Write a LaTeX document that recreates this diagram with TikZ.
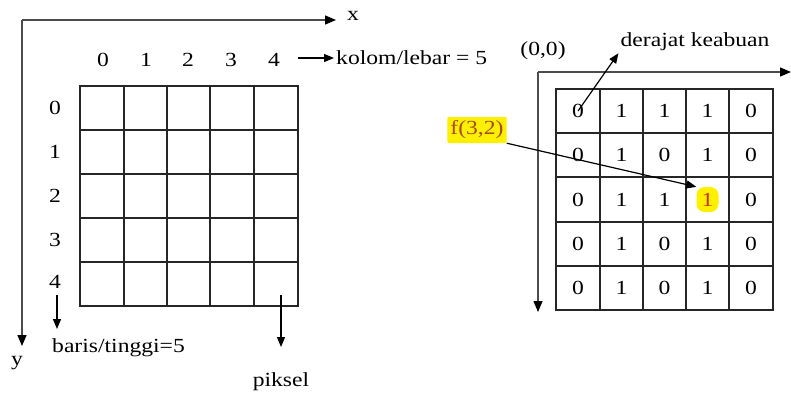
\documentclass[tikz,border=0pt]{standalone}
\usepackage{fontspec}
\setmainfont{Liberation Serif}[FakeStretch=1.18]
\usetikzlibrary{arrows.meta}
\definecolor{hl}{RGB}{255,240,0}
\definecolor{ftext}{RGB}{165,75,20}
\definecolor{onetext}{RGB}{200,50,10}
\begin{document}
\begin{tikzpicture}[x=1pt,y=-1pt,font=\fontsize{20}{23}\selectfont,
  axis/.style={draw=black!70,line width=1.3pt,-{Triangle[length=11pt,width=9pt,color=black]}},
  arr/.style={draw=black,line width=1.2pt,-{Triangle[length=10pt,width=8pt]}},
  gridln/.style={draw=black!85,line width=1.4pt},
  lbl/.style={inner sep=2pt},
  hlbox/.style={fill=hl,inner sep=2pt,rounded corners=4pt}]
\useasboundingbox (0,0) rectangle (791,394);
% ---------- left diagram ----------
\coordinate (O1) at (22,20);
\coordinate (X1) at (336,20);
\coordinate (Y1) at (22,346);
\draw[axis] (O1) -- (X1);
\draw[axis] (O1) -- (Y1);
\node[lbl] (xl) at (353,16) {x};
\node[lbl] (yl) at (17,363) {y};
\foreach \i/\x in {0/103,1/146,2/188,3/231,4/274}
  \node[lbl] (c\i) at (\x,60) {\i};
\foreach \i/\y in {0/108,1/152,2/196,3/240,4/282}
  \node[lbl] (r\i) at (55,\y) {\i};
\draw[gridln] (80,86) rectangle (298,306);
\foreach \x in {124,167,210,254} \draw[gridln] (\x,86) -- (\x,306);
\foreach \y in {130,174,218,262} \draw[gridln] (80,\y) -- (298,\y);
\node[lbl,anchor=west] (kol) at (334,58) {kolom/lebar = 5};
\coordinate (k0) at (298,58);
\draw[arr] (k0) -- (kol.west);
\node[lbl,anchor=west] (bar) at (50,348) {baris/tinggi=5};
\coordinate (b0) at (57,295);
\coordinate (b1) at (57,329);
\draw[arr] (b0) -- (b1);
\node[lbl] (pik) at (281,382) {piksel};
\coordinate (p0) at (281,295);
\coordinate (p1) at (281,347);
\draw[arr] (p0) -- (p1);
% ---------- right diagram ----------
\coordinate (O2) at (538,72);
\coordinate (X2) at (791,72);
\coordinate (Y2) at (538,312);
\draw[axis] (O2) -- (X2);
\draw[axis] (O2) -- (Y2);
\draw[gridln] (556,89) rectangle (773,310);
\foreach \x in {600,643,686,729} \draw[gridln] (\x,89) -- (\x,310);
\foreach \y in {133,177,222,266} \draw[gridln] (556,\y) -- (773,\y);
\foreach \r/\y/\vals in {0/111/{0,1,1,1,0},1/155/{0,1,0,1,0},2/199.5/{0,1,1,1,0},3/244/{0,1,0,1,0},4/288/{0,1,0,1,0}}{
  \foreach \v [count=\c from 0] in \vals {
    \pgfmathsetmacro{\cx}{{578,621.5,664.5,707.5,751}[\c]}
    \ifnum\r=2 \ifnum\c=3
      \node[hlbox,text=onetext,minimum width=22pt,minimum height=25pt,rounded corners=8pt] (v\r\c) at (\cx,\y) {\v};
    \else
      \node[lbl] (v\r\c) at (\cx,\y) {\v};
    \fi\else
      \node[lbl] (v\r\c) at (\cx,\y) {\v};
    \fi
  }
}
\node[lbl] (orig) at (543,51) {(0,0)};
\node[lbl] (der) at (695,42) {derajat keabuan};
\draw[arr] (v00.center) -- (der.south west);
\node[hlbox,text=ftext,rounded corners=1pt,inner sep=3pt,minimum height=26pt] (f) at (477,130) {f(3,2)};
\draw[arr] (f.south east) -- (v23.north west);
\end{tikzpicture}
\end{document}
